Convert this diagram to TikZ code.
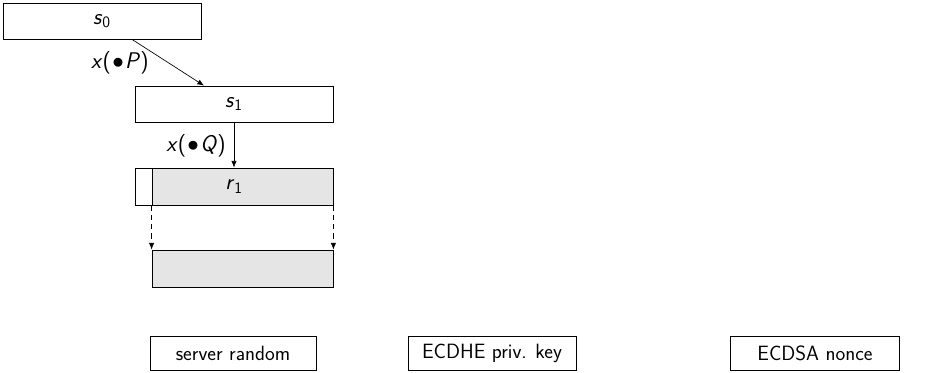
\documentclass[tikz,border=0pt]{standalone}
\usetikzlibrary{arrows.meta}
\newcommand\sv[1]{\textsl{#1}}
\newcommand\svsub[2]{\textsl{#1}\textsubscript{#2}}
\newcommand\dotop{\kern1pt$\bullet$\kern1pt}
\begin{document}
\begin{tikzpicture}[x=0.75pt,y=-0.75pt,
  font=\sffamily\fontsize{15.5}{18}\selectfont,
  every node/.style={inner sep=0pt},
  box/.style={draw,line width=0.6pt,minimum height=27pt},
  shaded/.style={box,fill=gray!20},
  mathtxt/.style={font=\sffamily\fontsize{17}{20}\selectfont},
  lbl/.style={mathtxt,anchor=east},
  conn/.style={line width=0.5pt,-{Latex[length=5pt,width=4pt]}},
  dconn/.style={conn,dash pattern=on 4pt off 3pt}]
  \useasboundingbox (0,0) rectangle (930,372);
  % state chain
  \node[box,mathtxt,minimum width=148.5pt] (s0) at (102,21) {\svsub{s}{0}};
  \node[box,mathtxt,minimum width=148.5pt] (s1) at (234,104) {\svsub{s}{1}};
  \node[box,minimum width=148.5pt,minimum height=27.75pt] (r1out) at (234,186.5) {};
  \node[shaded,minimum width=135.75pt,minimum height=27.75pt] (r1) at (242.5,186.5) {};
  \node[mathtxt] (r1lbl) at (r1out.center) {\svsub{r}{1}};
  \node[shaded,minimum width=135.75pt,minimum height=27.75pt] (nxt) at (242.5,268.5) {};
  % transitions
  \draw[conn] ([xshift=22.5pt]s0.south) -- ([xshift=-22.5pt]s1.north);
  \node[lbl] (lp) at (149,63) {\sv{x}(\dotop\sv{P})};
  \draw[conn] (s1.south) -- (r1out.north);
  \node[lbl] (lq) at (226,146) {\sv{x}(\dotop\sv{Q})};
  \draw[dconn] (r1.south west) -- (nxt.north west);
  \draw[dconn] (r1.south east) -- (nxt.north east);
  % legend
  \node[box,minimum width=124.5pt,minimum height=25.5pt] (l1) at (233,353) {server random};
  \node[box,minimum width=126pt,minimum height=25.5pt] (l2) at (492,353) {ECDHE priv. key};
  \node[box,minimum width=126.75pt,minimum height=25.5pt] (l3) at (815,353) {ECDSA nonce};
\end{tikzpicture}
\end{document}
